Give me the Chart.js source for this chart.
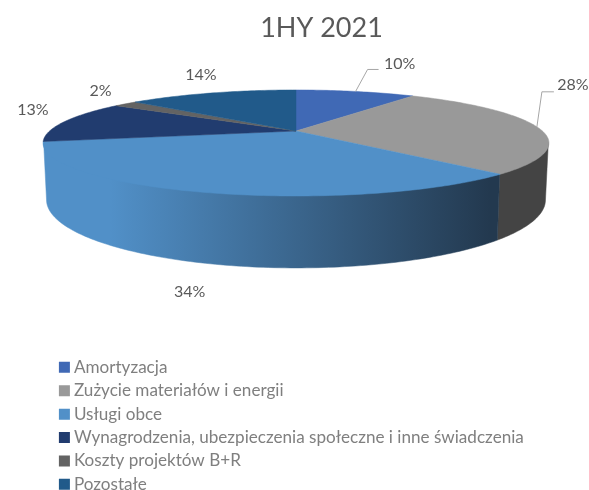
<!DOCTYPE html>
<html lang="pl">
<head>
    <meta charset="UTF-8">
    <title>1HY 2021</title>
    <script src="https://cdn.jsdelivr.net/npm/chart.js@4"></script>
    <style>
        body { margin: 0; background: #ffffff; }
        canvas { display: block; }
    </style>
</head>
<body>
    <canvas id="grafico" width="589" height="490"></canvas>

    <script>
        const chartTitle = '1HY 2021';
        const categories = [
            'Amortyzacja',
            'Zużycie materiałów i energii',
            'Usługi obce',
            'Wynagrodzenia, ubezpieczenia społeczne i inne świadczenia',
            'Koszty projektów B+R',
            'Pozostałe'
        ];
        const values = [9.5, 28.3, 34.0, 12.8, 1.9, 13.5];

        const topColors = ['#4069b5', '#999999', '#5190c8', '#213c6f', '#636363', '#215a8a'];
        const sideColors = ['#2b4779', '#444444', null, '#16284a', '#424242', '#163c5c'];

        // label position relative to the slice's rim midpoint
        const labelOffsets = [[44, -28], [36, -42], [-13, 100], [-32, -12], [-25, -13], [-11, -18]];
        // leader lines, same reference point (only the two right slices have one)
        const leaderOffsets = [[[12, -22], [23, -22]], [[5, -35], [17, -35]], null, null, null, null];

        // the disc is a circle seen in perspective, so slices are projected by hand
        const CENTER_X = 296;
        const PERSPECTIVE = 0.226;
        const topFace = { a: 246.4, b: 50.3, y: 131 };
        const bottomFace = { a: 243, b: 64.5, y: 184.6 };
        // wall starts a bit under the top face so no seam shows along the rim
        const wallTop = { a: 245.8, b: 49.3, y: 131 };
        // the wall is only visible between the two widest points of the disc
        const WALL_FROM = Math.acos(-PERSPECTIVE);
        const WALL_TO = 2 * Math.PI - WALL_FROM;

        function project(face, t) {
            const u = Math.sin(t);
            const v = Math.cos(t);
            const d = 1 + PERSPECTIVE * v;
            return [CENTER_X + face.a * u / d, face.y - face.b * v / d];
        }

        function arcPoints(face, from, to) {
            const pts = [];
            const steps = Math.max(2, Math.ceil((to - from) / (Math.PI / 180)));
            for (let i = 0; i <= steps; i++) {
                pts.push(project(face, from + (to - from) * i / steps));
            }
            return pts;
        }

        function tracePath(ctx, pts) {
            ctx.beginPath();
            pts.forEach((p, i) => i === 0 ? ctx.moveTo(p[0], p[1]) : ctx.lineTo(p[0], p[1]));
            ctx.closePath();
        }

        const pie3d = {
            id: 'pie3d',
            afterLayout(chart) {
                // legend goes below the pie, title sits right of the centre
                const legend = chart.legend;
                legend.left = 57.1;
                legend.right = 589;
                legend.top = 352.5;
                legend.bottom = 530;
                chart.titleBlock.left += 27;
                chart.titleBlock.right += 27;
            },
            beforeDatasetsDraw(chart) {
                const ctx = chart.ctx;
                const arcs = chart.getDatasetMeta(0).data;
                const angles = arcs.map(a => [a.startAngle + Math.PI / 2, a.endAngle + Math.PI / 2]);

                // walls first
                angles.forEach(([start, end], i) => {
                    const from = Math.max(start, WALL_FROM);
                    const to = Math.min(end, WALL_TO);
                    if (to <= from) return;
                    const pts = arcPoints(wallTop, from, to).concat(arcPoints(bottomFace, from, to).reverse());
                    let fill = sideColors[i];
                    if (!fill) {
                        fill = ctx.createLinearGradient(110, 0, 490, 0);
                        fill.addColorStop(0, topColors[i]);
                        fill.addColorStop(1, '#23394f');
                    }
                    tracePath(ctx, pts);
                    ctx.fillStyle = fill;
                    ctx.strokeStyle = fill;
                    ctx.lineWidth = 0.5;
                    ctx.fill();
                    ctx.stroke();
                });

                // top faces
                angles.forEach(([from, to], i) => {
                    const pts = [[CENTER_X, topFace.y]].concat(arcPoints(topFace, from, to));
                    tracePath(ctx, pts);
                    ctx.fillStyle = topColors[i];
                    ctx.strokeStyle = topColors[i];
                    ctx.lineWidth = 0.5;
                    ctx.fill();
                    ctx.stroke();
                });

                // leaders and percent labels
                ctx.font = '16px Lato';
                ctx.textAlign = 'center';
                ctx.textBaseline = 'middle';
                angles.forEach(([from, to], i) => {
                    const rim = project(topFace, (from + to) / 2);
                    if (leaderOffsets[i]) {
                        ctx.beginPath();
                        ctx.moveTo(rim[0], rim[1]);
                        leaderOffsets[i].forEach(o => ctx.lineTo(rim[0] + o[0], rim[1] + o[1]));
                        ctx.strokeStyle = '#a6a6a6';
                        ctx.lineWidth = 1;
                        ctx.stroke();
                    }
                    ctx.fillStyle = '#595959';
                    ctx.fillText(Math.round(values[i]) + '%', rim[0] + labelOffsets[i][0], rim[1] + labelOffsets[i][1]);
                });
                return false;
            }
        };

        new Chart(document.getElementById('grafico'), {
            type: 'pie',
            data: {
                labels: categories,
                datasets: [{
                    data: values,
                    backgroundColor: topColors,
                    borderWidth: 0
                }]
            },
            plugins: [pie3d],
            options: {
                responsive: false,
                animation: false,
                plugins: {
                    tooltip: { enabled: false },
                    title: {
                        display: true,
                        text: chartTitle,
                        color: '#595959',
                        font: { family: 'Lato', size: 27, weight: 'normal' },
                        padding: { top: 12, bottom: 10 }
                    },
                    legend: {
                        position: 'left',
                        align: 'start',
                        labels: {
                            color: '#7f7f7f',
                            font: { family: 'Lato', size: 17.1 },
                            usePointStyle: true,
                            pointStyle: 'rect',
                            boxWidth: 2,
                            boxHeight: 11,
                            padding: 6.3
                        }
                    }
                }
            }
        });
    </script>
</body>
</html>
